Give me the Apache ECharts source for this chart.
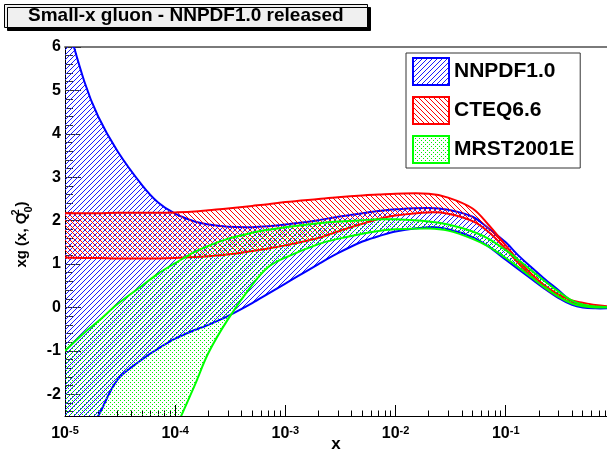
<!DOCTYPE html>
<html><head><meta charset="utf-8">
<script src="https://cdn.jsdelivr.net/npm/echarts@6/dist/echarts.min.js"></script>
<style>html,body{margin:0;padding:0;background:#fff}#c{width:607px;height:451px}</style>
</head><body><div id="c"></div>
<script>
// ---------- data ----------
const xValues = [1e-5, 1.5e-5, 2e-5, 3e-5, 5e-5, 7e-5, 1e-4, 1.5e-4, 2e-4, 3e-4, 5e-4, 7e-4,
  1e-3, 2e-3, 3e-3, 5e-3, 7e-3, 1e-2, 2e-2, 3e-2, 5e-2, 7e-2, 0.1, 0.13, 0.17, 0.22, 0.3, 0.4, 0.5, 0.65, 0.83];
const nnpdfUpper = [6.75, 5.2, 4.4, 3.6, 2.82, 2.42, 2.16, 1.98, 1.91, 1.86, 1.85, 1.87,
  1.91, 2.01, 2.09, 2.17, 2.22, 2.26, 2.29, 2.25, 2.09, 1.82, 1.50, 1.20, 0.93, 0.68, 0.40, 0.14, 0.04, 0.0, 0.0];
const nnpdfLower = [-4.0, -3.0, -2.5, -1.66, -1.2, -0.95, -0.72, -0.52, -0.40, -0.20, 0.10, 0.32,
  0.55, 1.00, 1.25, 1.52, 1.64, 1.75, 1.85, 1.80, 1.62, 1.40, 1.10, 0.88, 0.66, 0.45, 0.22, 0.06, 0.0, -0.02, -0.02];
const cteqUpper = [2.17, 2.17, 2.17, 2.18, 2.18, 2.18, 2.19, 2.21, 2.24, 2.28, 2.34, 2.38,
  2.43, 2.50, 2.54, 2.58, 2.60, 2.62, 2.62, 2.53, 2.28, 1.90, 1.43, 1.09, 0.78, 0.53, 0.30, 0.16, 0.11, 0.06, 0.03];
const cteqLower = [1.15, 1.14, 1.14, 1.13, 1.13, 1.13, 1.14, 1.16, 1.18, 1.22, 1.30, 1.36,
  1.43, 1.60, 1.75, 1.93, 2.04, 2.12, 2.19, 2.16, 1.99, 1.74, 1.35, 1.02, 0.72, 0.48, 0.25, 0.10, 0.05, 0.02, 0.01];
const mrstUpper = [-1.0, -0.58, -0.32, 0.08, 0.50, 0.78, 1.02, 1.28, 1.42, 1.58, 1.72, 1.79,
  1.85, 1.94, 1.98, 2.01, 2.03, 2.03, 1.98, 1.91, 1.75, 1.58, 1.32, 1.10, 0.86, 0.63, 0.37, 0.16, 0.07, 0.02, 0.01];
const mrstLower = [-9.0, -8.0, -7.2, -6.0, -4.6, -3.6, -2.8, -1.8, -1.05, -0.28, 0.52, 0.93,
  1.15, 1.46, 1.58, 1.70, 1.76, 1.80, 1.82, 1.77, 1.58, 1.40, 1.14, 0.93, 0.70, 0.48, 0.25, 0.09, 0.03, 0.0, 0.0];
const seriesNames = ['NNPDF1.0', 'CTEQ6.6', 'MRST2001E'];
const majorTicksX = [1e-5, 1e-4, 1e-3, 1e-2, 1e-1];
const minorTicksX = [2e-5,3e-5,4e-5,5e-5,6e-5,7e-5,8e-5,9e-5, 2e-4,3e-4,4e-4,5e-4,6e-4,7e-4,8e-4,9e-4,
  2e-3,3e-3,4e-3,5e-3,6e-3,7e-3,8e-3,9e-3, 2e-2,3e-2,4e-2,5e-2,6e-2,7e-2,8e-2,9e-2, 0.2,0.3,0.4,0.5,0.6,0.7,0.8];
const majorTicksY = [-2, -1, 0, 1, 2, 3, 4, 5, 6];
const minorTicksY = [-2.4,-2.2, -1.8,-1.6,-1.4,-1.2, -0.8,-0.6,-0.4,-0.2, 0.2,0.4,0.6,0.8, 1.2,1.4,1.6,1.8,
  2.2,2.4,2.6,2.8, 3.2,3.4,3.6,3.8, 4.2,4.4,4.6,4.8, 5.2,5.4,5.6,5.8];
const xMin = 1e-5, xMax = 0.83, yMin = -2.5, yMax = 6;

// ---------- styles ----------
const FONT = '"Liberation Sans", Arial, Helvetica, sans-serif';
const SMOOTH = 0.35;
function hatch(color, up) {
  const n = 5, c = document.createElement('canvas');
  c.width = n; c.height = n;
  const g = c.getContext('2d'); g.fillStyle = color;
  for (let i = 0; i < n; i++) g.fillRect(i, up ? n - 1 - i : i, 1, 1);
  return { image: c, repeat: 'repeat' };
}
function dots(color) {
  const c = document.createElement('canvas'); c.width = 4; c.height = 4;
  const g = c.getContext('2d'); g.fillStyle = color;
  g.fillRect(0, 0, 1, 1); g.fillRect(2, 2, 1, 1);
  return { image: c, repeat: 'repeat' };
}
const colors = ['#0000ff', '#ff0000', '#00ff00'];
const patterns = [hatch('#1a1aff', true), hatch('#ff0000', false), dots('#00ee00')];

function band(name, lo, hi, color, pattern) {
  return {
    type: 'custom', name: name, coordinateSystem: 'cartesian2d', xAxisIndex: 0, yAxisIndex: 0,
    clip: true, silent: true, itemStyle: { color: color },
    data: [[xMin, yMin]], encode: { x: 0, y: 1 },
    renderItem: function (params, api) {
      const up = xValues.map((x, i) => api.coord([x, hi[i]]));
      const dn = xValues.map((x, i) => api.coord([x, lo[i]]));
      const poly = up.concat(dn.slice().reverse());
      return { type: 'group', children: [
        { type: 'polygon', shape: { points: poly, smooth: SMOOTH }, style: { fill: pattern, stroke: null } },
        { type: 'polyline', shape: { points: up, smooth: SMOOTH }, style: { stroke: color, lineWidth: 2, fill: null } },
        { type: 'polyline', shape: { points: dn, smooth: SMOOTH }, style: { stroke: color, lineWidth: 2, fill: null } }
      ] };
    }
  };
}

const series = [
  band(seriesNames[0], nnpdfLower, nnpdfUpper, colors[0], patterns[0]),
  band(seriesNames[1], cteqLower, cteqUpper, colors[1], patterns[1]),
  band(seriesNames[2], mrstLower, mrstUpper, colors[2], patterns[2])
];

const chart = echarts.init(document.getElementById('c'), null, { renderer: 'canvas' });
chart.setOption({
  animation: false,
  backgroundColor: '#ffffff',
  textStyle: { fontFamily: FONT },
  title: {
    text: 'Small-x gluon - NNPDF1.0 released', left: 4, top: 4, padding: [2, 24, 2, 24],
    backgroundColor: '#f0f0f0', borderColor: '#000', borderWidth: 1,
    shadowColor: '#000', shadowOffsetX: 3, shadowOffsetY: 3, shadowBlur: 0,
    textStyle: { fontFamily: FONT, fontSize: 19, fontWeight: 'bold', color: '#000', lineHeight: 20 }
  },
  legend: {
    orient: 'vertical', left: 406, top: 53, padding: [4, 6, 4, 6], itemWidth: 36, itemHeight: 27, itemGap: 10,
    icon: 'rect', selectedMode: false, backgroundColor: '#fff', borderColor: '#333', borderWidth: 1,
    textStyle: { fontFamily: FONT, fontSize: 21, fontWeight: 'bold', color: '#000', width: 142 },
    data: seriesNames.map((n, i) => ({ name: n, itemStyle: { color: patterns[i], borderColor: colors[i], borderWidth: 2 } }))
  },
  grid: { left: 65, right: 0, top: 47, bottom: 35, containLabel: false, outerBoundsMode: 'none' },
  xAxis: [
    { type: 'log', position: 'bottom', min: xMin, max: xMax, logBase: 10,
      name: 'x', nameLocation: 'middle', nameGap: 20, nameMoveOverlap: false,
      nameTextStyle: { fontFamily: FONT, fontSize: 17, fontWeight: 'bold', color: '#000' },
      axisLine: { onZero: false, lineStyle: { color: '#000', width: 1 } },
      axisTick: { inside: true, length: 11, customValues: majorTicksX, lineStyle: { color: '#000' } },
      splitLine: { show: false }, minorTick: { show: false },
      axisLabel: { customValues: majorTicksX, margin: 10,
        formatter: v => '{b|10}{s|' + Math.round(Math.log10(v)) + '}',
        rich: { b: { fontFamily: FONT, fontSize: 16, fontWeight: 'bold', color: '#000', lineHeight: 16, verticalAlign: 'bottom' },
                s: { fontFamily: FONT, fontSize: 11, fontWeight: 'bold', color: '#000', lineHeight: 11, verticalAlign: 'bottom', padding: [0, 0, 6, 0] } } } },
    { type: 'log', position: 'bottom', min: xMin, max: xMax, logBase: 10,
      axisLine: { show: false, onZero: false }, splitLine: { show: false }, axisLabel: { show: false },
      axisTick: { inside: true, length: 5.5, customValues: minorTicksX, lineStyle: { color: '#000' } } },
    { type: 'log', position: 'top', min: xMin, max: xMax, logBase: 10,
      axisLine: { onZero: false, lineStyle: { color: '#7a7a7a', width: 2 } }, splitLine: { show: false },
      axisLabel: { show: false }, axisTick: { show: false } }
  ],
  yAxis: [
    { type: 'value', position: 'left', min: yMin, max: yMax,
      name: '{a|xg (x, Q}{u|2}{d|0}{a|)}', nameLocation: 'middle', nameGap: 31, nameRotate: 90, nameMoveOverlap: false,
      nameTextStyle: { padding: [0, 6, 0, 0], rich: {
        a: { fontFamily: FONT, fontSize: 15, fontWeight: 'bold', color: '#000', lineHeight: 24, verticalAlign: 'middle' },
        u: { fontFamily: FONT, fontSize: 11, fontWeight: 'bold', color: '#000', lineHeight: 11, verticalAlign: 'top', width: 0 },
        d: { fontFamily: FONT, fontSize: 11, fontWeight: 'bold', color: '#000', lineHeight: 11, verticalAlign: 'bottom' } } },
      axisLine: { show: true, onZero: false, lineStyle: { color: '#000', width: 1 } },
      axisTick: { inside: true, length: 16, customValues: majorTicksY, lineStyle: { color: '#333' } },
      splitLine: { show: false },
      axisLabel: { customValues: majorTicksY, margin: 4, fontFamily: FONT, fontSize: 16, fontWeight: 'bold', color: '#000' } },
    { type: 'value', position: 'left', min: yMin, max: yMax,
      axisLine: { show: false, onZero: false }, splitLine: { show: false }, axisLabel: { show: false },
      axisTick: { inside: true, length: 8, customValues: minorTicksY, lineStyle: { color: '#333' } } }
  ],
  series: series
});
</script></body></html>
